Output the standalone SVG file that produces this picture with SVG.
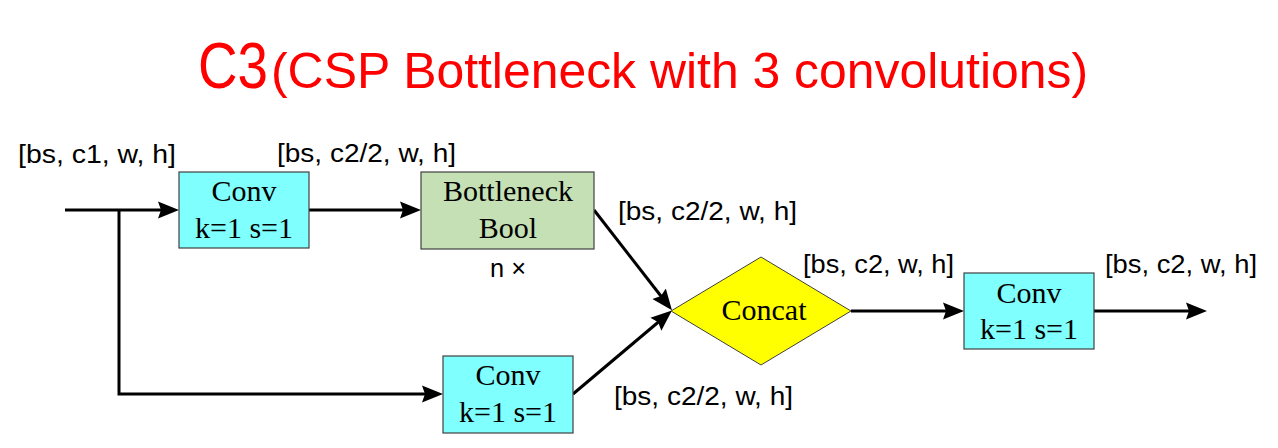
<svg xmlns="http://www.w3.org/2000/svg" width="1278" height="448" viewBox="0 0 1278 448">
<style>
.title{font-family:"Liberation Sans",Arial,sans-serif;fill:#FF0000}
.lbl{font-family:"Liberation Sans",Arial,sans-serif;font-size:26px;fill:#000}
.box{stroke:#404040;stroke-width:1.2}
.conv{fill:#80FFFF}
.bot{fill:#C5E0B4}
.cat{fill:#FFFF00;stroke:#404040;stroke-width:1}
.nt{font-family:"Liberation Serif","Times New Roman",serif;font-size:30px;fill:#000;text-anchor:middle}
.edge{fill:none;stroke:#000;stroke-width:3;marker-end:url(#arr)}
</style>
<defs>
<marker id="arr" markerUnits="userSpaceOnUse" markerWidth="24" markerHeight="20" viewBox="0 -10 24 20" refX="8" refY="0" orient="auto">
<path d="M0,-8.5 L21,0 L0,8.5 L3,0 Z" fill="#000"/>
</marker>
</defs>
<rect width="1278" height="448" fill="#FFFFFF"/>
<g id="title">
<text class="title" x="198" y="88" font-size="64" textLength="70" lengthAdjust="spacingAndGlyphs">C3</text>
<text class="title" x="271" y="88" font-size="50" textLength="817" lengthAdjust="spacingAndGlyphs">(CSP Bottleneck with 3 convolutions)</text>
</g>
<g id="connectors">
<path class="edge" d="M65,210 H166"/>
<path class="edge" d="M119,210 V394 H430"/>
<path class="edge" d="M309,210 H408"/>
<path class="edge" d="M594,210 L664,300"/>
<path class="edge" d="M573,394 L662,319"/>
<path class="edge" d="M851,311 H951"/>
<path class="edge" d="M1094,311 H1194"/>
</g>
<g id="conv1">
<rect class="box conv" x="179" y="172" width="130" height="76"/>
<text class="nt" x="244" y="201">Conv</text>
<text class="nt" x="244" y="238">k=1 s=1</text>
</g>
<g id="bottleneck">
<rect class="box bot" x="421" y="172" width="173" height="77"/>
<text class="nt" x="508" y="201">Bottleneck</text>
<text class="nt" x="508" y="238">Bool</text>
</g>
<g id="conv2">
<rect class="box conv" x="443" y="356" width="130" height="77"/>
<text class="nt" x="508" y="385">Conv</text>
<text class="nt" x="508" y="422">k=1 s=1</text>
</g>
<g id="concat">
<polygon class="cat" points="671,311 761,257 851,311 761,365"/>
<text class="nt" x="764" y="320">Concat</text>
</g>
<g id="conv3">
<rect class="box conv" x="964" y="273" width="130" height="76"/>
<text class="nt" x="1029" y="303">Conv</text>
<text class="nt" x="1029" y="339">k=1 s=1</text>
</g>
<g id="labels">
<text class="lbl" x="18" y="163" textLength="158" lengthAdjust="spacingAndGlyphs">[bs, c1, w, h]</text>
<text class="lbl" x="277" y="162" textLength="179" lengthAdjust="spacingAndGlyphs">[bs, c2/2, w, h]</text>
<text class="lbl" x="490" y="277" textLength="36" lengthAdjust="spacingAndGlyphs">n ×</text>
<text class="lbl" x="618" y="220" textLength="179" lengthAdjust="spacingAndGlyphs">[bs, c2/2, w, h]</text>
<text class="lbl" x="803" y="273" textLength="151" lengthAdjust="spacingAndGlyphs">[bs, c2, w, h]</text>
<text class="lbl" x="1105" y="273" textLength="152" lengthAdjust="spacingAndGlyphs">[bs, c2, w, h]</text>
<text class="lbl" x="614" y="405" textLength="179" lengthAdjust="spacingAndGlyphs">[bs, c2/2, w, h]</text>
</g>
</svg>
